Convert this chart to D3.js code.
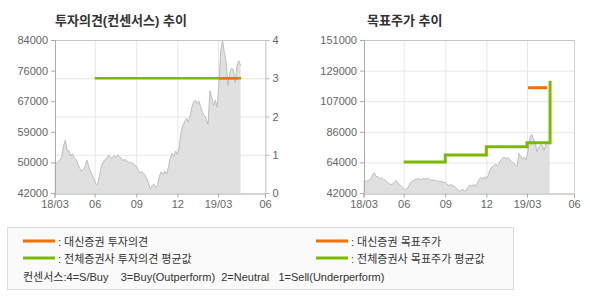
<!DOCTYPE html>
<html><head><meta charset="utf-8">
<script src="https://cdn.jsdelivr.net/npm/d3@7"></script>
<style>
body{margin:0;background:#fff;}
svg text{font-family:"Liberation Sans","Noto Sans CJK KR",sans-serif;}
</style></head>
<body><svg id="c" width="590" height="300"></svg>
<script>
// ---------- data ----------
const titles = ["투자의견(컨센서스) 추이", "목표주가 추이"];
const xTickDates = ["2018-03-04","2018-06-01","2018-09-01","2018-12-01","2019-03-01","2019-06-13"];
const xTickLabels = ["18/03","06","09","12","19/03","06"];
const priceStart = "2018-03-04";
const priceStepDays = 4;
const priceValues = [
50300,50200,50600,51000,52000,55000,56500,53800,53500,52200,
52800,51500,51200,49800,48800,48000,48500,49500,51000,49200,
47800,46800,45600,44300,44600,47000,49500,50500,51200,51600,
52400,51800,51500,52300,51800,52400,52000,51300,51000,51200,
50800,50500,50300,50200,49900,49400,48600,47500,47800,47600,
47000,46000,44700,43000,44000,44500,43500,44000,46500,47800,
47000,48000,47200,49000,51500,53000,52000,53500,52500,54500,
58500,60500,61500,62500,61500,63000,65500,67000,67500,66500,
67200,65500,64000,63200,62300,60800,70000,68300,66000,67500,
65500,72000,81000,84000,80500,78000,71500,75000,76200,76000,
72300,77000,78300,77000];
const leftPriceTicks = [42000,50400,58800,67200,75600,84000];
const leftPriceTickLabels = ["42000","50000","59000","67000","76000","84000"];
const opinionTicks = [0,1,2,3,4];
const opinionTickLabels = ["0","1","2","3","4"];
const targetTicks = [42000,63800,85600,107400,129200,151000];
const targetTickLabels = ["42000","64000","86000","107000","129000","151000"];
// investment opinion (score)
const opinionAvg = [{d:"2018-06-01",v:3},{d:"2019-04-21",v:3}];
const opinionDaishin = [{d:"2019-03-03",v:3},{d:"2019-04-15",v:3}];
// target price
const targetAvg = [{d:"2018-06-01",v:64000},{d:"2018-09-01",v:69000},{d:"2018-12-01",v:75000},{d:"2019-03-01",v:77800},{d:"2019-04-21",v:122000}];
const targetDaishin = [{d:"2019-03-03",v:117000},{d:"2019-04-15",v:117000}];
const legendItems = [
  {label:": 대신증권 투자의견", color:"#f26f00"},
  {label:": 전체증권사 투자의견 평균값", color:"#7cb900"},
  {label:": 대신증권 목표주가", color:"#f26f00"},
  {label:": 전체증권사 목표주가 평균값", color:"#7cb900"}
];
const consensusNote = "컨센서스:4=S/Buy    3=Buy(Outperform)  2=Neutral   1=Sell(Underperform)";

// ---------- helpers ----------
const parse = d3.timeParse("%Y-%m-%d");
const ORANGE = "#f26f00", GREEN = "#7cb900";
const t0 = parse(priceStart);
const prices = priceValues.map((v,i)=>({d:d3.timeDay.offset(t0, i*priceStepDays), v}));
const svg = d3.select("#c");
const TOP = 40, BOTTOM = 193;
const tickDates = xTickDates.map(parse);

function panel(x0, x1, gridTicks, title, titleX) {
  const g = svg.append("g");
  const x = d3.scaleTime().domain([tickDates[0], tickDates[tickDates.length-1]]).range([x0, x1]);
  g.selectAll(".vg").data(tickDates.slice(1,-1)).join("line")
    .attr("x1",d=>x(d)+0.5).attr("x2",d=>x(d)+0.5).attr("y1",TOP).attr("y2",BOTTOM)
    .attr("stroke","#e6e6e6");
  g.selectAll(".hg").data(gridTicks.vals.slice(1,-1)).join("line")
    .attr("x1",x0).attr("x2",x1).attr("y1",d=>gridTicks.scale(d)+0.5).attr("y2",d=>gridTicks.scale(d)+0.5)
    .attr("stroke","#e6e6e6");
  g.append("text").attr("x",titleX).attr("y",25).attr("font-size",13).attr("font-weight","bold")
    .attr("fill","#333").attr("font-family","Noto Sans CJK KR").text(title);
  return {g, x};
}

function drawPrice(p, y) {
  const area = d3.area().x(d=>p.x(d.d)).y0(BOTTOM).y1(d=>y(d.v));
  const line = d3.line().x(d=>p.x(d.d)).y(d=>y(d.v));
  p.g.append("path").datum(prices).attr("d",area).attr("fill","#e0e0e0");
  p.g.append("path").datum(prices).attr("d",line).attr("fill","none").attr("stroke","#bdbdbd").attr("stroke-width",1);
}

function axes(p, x0, x1, y, ticks, labels, rightAxis) {
  const g = p.g;
  g.append("line").attr("x1",x0).attr("x2",x1).attr("y1",TOP+0.5).attr("y2",TOP+0.5).attr("stroke","#c4c4c4");
  g.append("line").attr("x1",x1+0.5).attr("x2",x1+0.5).attr("y1",TOP).attr("y2",BOTTOM).attr("stroke","#d4d4d4");
  const ya = d3.axisLeft(y).tickValues(ticks).tickFormat((d,i)=>labels[i]).tickSize(4).tickPadding(3);
  const gl = g.append("g").attr("transform",`translate(${x0+0.5},0)`).call(ya);
  gl.select(".domain").attr("stroke","#aaa");
  gl.selectAll(".tick line").attr("stroke","#aaa");
  gl.selectAll("text").attr("font-size",11).attr("fill","#666");
  const xa = d3.axisBottom(p.x).tickValues(tickDates).tickFormat((d,i)=>xTickLabels[i]).tickSize(4).tickPadding(3);
  const gb = g.append("g").attr("transform",`translate(0,${BOTTOM+0.5})`).call(xa);
  gb.select(".domain").attr("stroke","#aaa");
  gb.selectAll(".tick line").attr("stroke","#aaa");
  gb.selectAll("text").attr("font-size",11).attr("fill","#666");
  if (rightAxis) {
    const ra = d3.axisRight(rightAxis.scale).tickValues(rightAxis.vals)
      .tickFormat((d,i)=>rightAxis.labels[i]).tickSize(4).tickPadding(3);
    const gr = g.append("g").attr("transform",`translate(${x1+0.5},0)`).call(ra);
    gr.select(".domain").attr("stroke","#d4d4d4");
    gr.selectAll(".tick line").attr("stroke","#bbb");
    gr.selectAll("text").attr("font-size",11).attr("fill","#666");
  }
}

// ---------- left panel ----------
const L0 = 54.5, L1 = 265;
const yLP = d3.scaleLinear().domain([42000,84000]).range([BOTTOM, TOP]);
const yOp = d3.scaleLinear().domain([0,4]).range([BOTTOM, TOP]);
const pl = panel(L0, L1, {vals:opinionTicks, scale:yOp}, titles[0], 55);
drawPrice(pl, yLP);
const opLine = d3.line().x(d=>pl.x(parse(d.d))).y(d=>yOp(d.v));
pl.g.append("path").datum(opinionAvg).attr("d",opLine).attr("fill","none").attr("stroke",GREEN).attr("stroke-width",2.5);
pl.g.append("path").datum(opinionDaishin).attr("d",opLine).attr("fill","none").attr("stroke",ORANGE).attr("stroke-width",2.5);
axes(pl, L0, L1, yLP, leftPriceTicks, leftPriceTickLabels, {vals:opinionTicks, labels:opinionTickLabels, scale:yOp});

// ---------- right panel ----------
const R0 = 363.5, R1 = 574;
const yRP = d3.scaleLinear().domain([42000,151000]).range([BOTTOM, TOP]);
const pr = panel(R0, R1, {vals:targetTicks, scale:yRP}, titles[1], 367);
drawPrice(pr, yRP);
const tpStep = d3.line().curve(d3.curveStepAfter).x(d=>pr.x(parse(d.d))).y(d=>yRP(d.v));
const tpLine = d3.line().x(d=>pr.x(parse(d.d))).y(d=>yRP(d.v));
pr.g.append("path").datum(targetAvg).attr("d",tpStep).attr("fill","none").attr("stroke",GREEN).attr("stroke-width",3);
pr.g.append("path").datum(targetDaishin).attr("d",tpLine).attr("fill","none").attr("stroke",ORANGE).attr("stroke-width",3);
axes(pr, R0, R1, yRP, targetTicks, targetTickLabels, null);

// ---------- legend ----------
const lg = svg.append("g");
lg.append("rect").attr("x",7.5).attr("y",227.5).attr("width",506).attr("height",62)
  .attr("fill","#fafafa").attr("stroke","#dcdcdc");
const legPos = [{x:23,y:241},{x:23,y:258},{x:316,y:241},{x:316,y:258}];
legendItems.forEach((it,i)=>{
  const p = legPos[i];
  lg.append("line").attr("x1",p.x).attr("x2",p.x+32).attr("y1",p.y).attr("y2",p.y)
    .attr("stroke",it.color).attr("stroke-width",3);
  lg.append("text").attr("x",p.x+35).attr("y",p.y+4.5).attr("font-size",11).attr("fill","#333")
    .attr("font-family","Noto Sans CJK KR").text(it.label);
});
lg.append("text").attr("x",23).attr("y",281).attr("font-size",11).attr("fill","#333")
  .style("white-space","pre")
  .attr("font-family","Noto Sans CJK KR").text(consensusNote);
</script></body></html>
